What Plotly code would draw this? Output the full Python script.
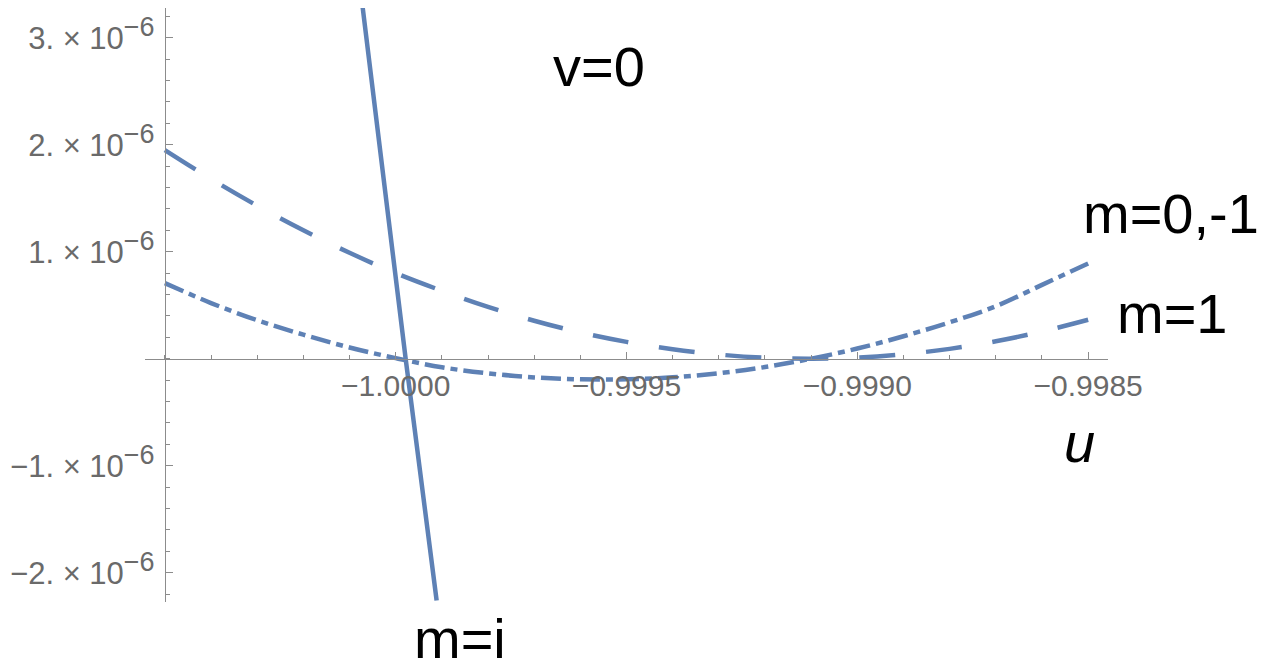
import plotly.graph_objects as go

# ---- data ----
u_grid = [-1.0005, -1.0004, -1.0003, -1.0002, -1.0001, -1.0000, -0.9999, -0.9998,
          -0.9997, -0.9996, -0.9995, -0.9994, -0.9993, -0.9992, -0.9991, -0.9990,
          -0.9989, -0.9988, -0.9987, -0.9986, -0.9985]

# m = 1 (dashed), values in units of 1e-6
m1_vals = [1.95, 1.68, 1.43, 1.20, 0.99, 0.80, 0.635, 0.485, 0.355, 0.245, 0.157,
           0.088, 0.039, 0.009, 0.0, 0.011, 0.042, 0.092, 0.163, 0.254, 0.364]

# m = 0,-1 (dash-dot), values in units of 1e-6
m0_vals = [0.707, 0.52, 0.36, 0.225, 0.105, 0.005, -0.08, -0.137, -0.175, -0.193,
           -0.193, -0.174, -0.136, -0.078, 0.0, 0.095, 0.21, 0.34, 0.49, 0.69, 0.89]

# m = i (solid)
mi_u = [-1.0000714, -0.9999784, -0.9999113]
mi_vals = [3.28, 0.0, -2.26]

x_tickvals = [-1.0000, -0.9995, -0.9990, -0.9985]
x_ticktext = ["\u22121.0000", "\u22120.9995", "\u22120.9990", "\u22120.9985"]
y_tickvals = [-2e-6, -1e-6, 1e-6, 2e-6, 3e-6]
y_mant = ["\u22122.", "\u22121.", "1.", "2.", "3."]

scale = 1e-6
blue = "#5E81B5"
axis_gray = "#8c8c8c"
label_gray = "#6a6a6a"

fig = go.Figure()
fig.add_trace(go.Scatter(x=u_grid, y=[v * scale for v in m1_vals], mode="lines",
                         line=dict(color=blue, width=4.5, dash="36px,31px", shape="spline"),
                         name="m=1"))
fig.add_trace(go.Scatter(x=u_grid, y=[v * scale for v in m0_vals], mode="lines",
                         line=dict(color=blue, width=4.5, dash="20px,6px,7px,6px", shape="spline"),
                         name="m=0,-1"))
fig.add_trace(go.Scatter(x=mi_u, y=[v * scale for v in mi_vals], mode="lines",
                         line=dict(color=blue, width=4.5),
                         name="m=i"))

y_ticktext = [f"{m} \u00d7 10<sup><span style='font-size:27px'>\u22126</span></sup>" for m in y_mant]

xr = [-1.000543, -0.998457]
yr = [-2.274e-6, 3.278e-6]

fig.update_layout(
    width=1266, height=665,
    margin=dict(l=145, r=158, t=8, b=63),
    plot_bgcolor="white", paper_bgcolor="white",
    showlegend=False,
    font=dict(family="Liberation Sans, Arial, sans-serif"),
    xaxis=dict(range=xr, anchor="free", position=(0 - yr[0]) / (yr[1] - yr[0]),
               showgrid=False, zeroline=False, showline=True, linecolor=axis_gray, linewidth=1,
               ticks="inside", ticklen=7, tickcolor=axis_gray, tickwidth=1,
               tickmode="array", tickvals=x_tickvals, ticktext=x_ticktext,
               tickfont=dict(size=30, color=label_gray, family="Liberation Sans"),
               minor=dict(ticks="inside", ticklen=4, tickcolor=axis_gray, dtick=0.0001,
                          tick0=-1.0, showgrid=False)),
    yaxis=dict(range=yr, anchor="free", position=(-1.0005 - xr[0]) / (xr[1] - xr[0]),
               showgrid=False, zeroline=False, showline=True, linecolor=axis_gray, linewidth=1,
               ticks="inside", ticklen=7, tickcolor=axis_gray, tickwidth=1,
               tickmode="array", tickvals=y_tickvals, ticktext=y_ticktext,
               ticklabelstandoff=4,
               tickfont=dict(size=31, color=label_gray, family="Liberation Sans"),
               minor=dict(ticks="inside", ticklen=4, tickcolor=axis_gray, dtick=0.2e-6,
                          tick0=0, showgrid=False)),
)

ann_font = dict(family="Liberation Sans", size=56, color="black")
labels = [
    ("v=0", 0.4714, 0.9007),
    ("m=0,-1", 1.0654, 0.654),
    ("m=1", 1.0665, 0.4865),
    ("m=i", 0.327, -0.0614),
    ("<i>u</i>", 0.970, 0.2677),
]
for txt, px, py in labels:
    fig.add_annotation(text=txt, x=px, y=py, xref="paper", yref="paper",
                       xanchor="center", yanchor="middle", showarrow=False, font=ann_font)

fig.write_html("out.html", config={"displayModeBar": False},
               post_script="document.body.style.margin='0px';document.body.style.overflow='hidden';")
